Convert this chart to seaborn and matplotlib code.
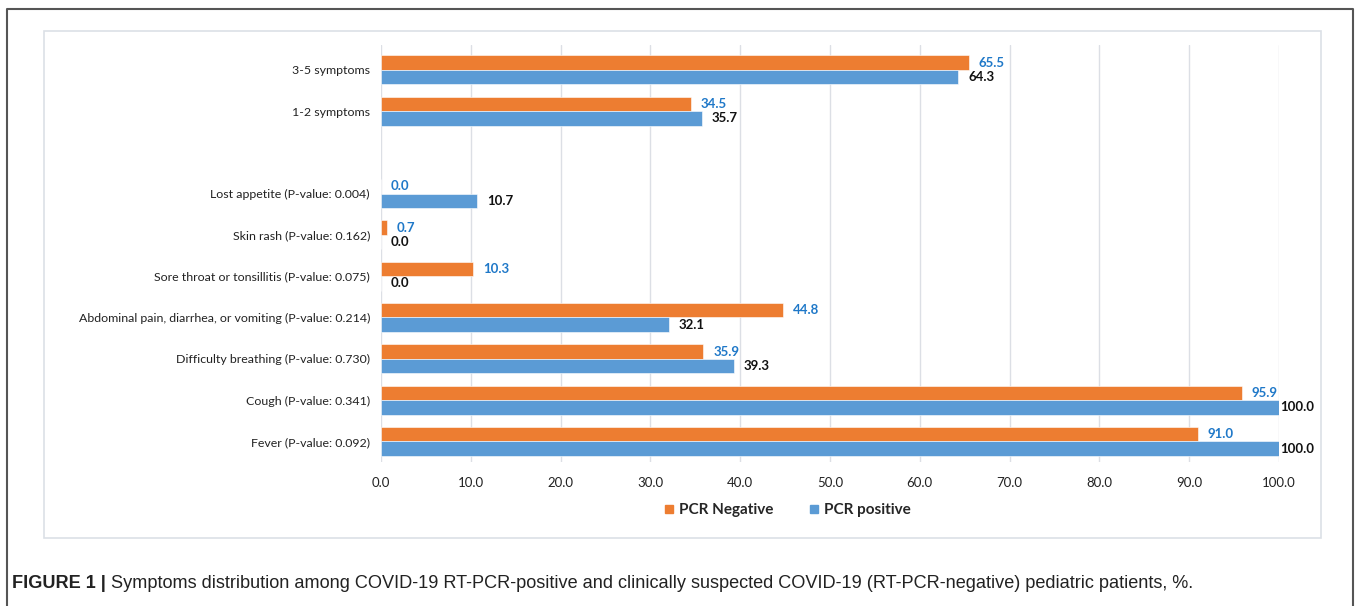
import numpy as np
import pandas as pd
import matplotlib
matplotlib.use("Agg")
import matplotlib.pyplot as plt
from matplotlib.patches import Rectangle
from matplotlib.lines import Line2D
import seaborn as sns

# Symptom categories, top to bottom ("" is a spacer row between groups)
categories = [
    "3-5 symptoms",
    "1-2 symptoms",
    "",
    "Lost appetite (P-value: 0.004)",
    "Skin rash (P-value: 0.162)",
    "Sore throat or tonsillitis (P-value: 0.075)",
    "Abdominal pain, diarrhea, or vomiting (P-value: 0.214)",
    "Difficulty breathing (P-value: 0.730)",
    "Cough (P-value: 0.341)",
    "Fever (P-value: 0.092)",
]
pcr_negative = [65.5, 34.5, np.nan, 0.0, 0.7, 10.3, 44.8, 35.9, 95.9, 91.0]
pcr_positive = [64.3, 35.7, np.nan, 10.7, 0.0, 0.0, 32.1, 39.3, 100.0, 100.0]
groups = ["PCR Negative", "PCR positive"]
x_ticks = [0, 10, 20, 30, 40, 50, 60, 70, 80, 90, 100]

colors = {"PCR Negative": "#ED7D31", "PCR positive": "#5B9BD5"}
label_colors = {"PCR Negative": "#1F78C8", "PCR positive": "#111111"}

df = pd.DataFrame({
    "category": categories * 2,
    "group": [groups[0]] * len(categories) + [groups[1]] * len(categories),
    "value": pcr_negative + pcr_positive,
})

sns.set_theme(style="white")
plt.rcParams["font.family"] = ["Lato", "DejaVu Sans"]

W, H = 1358, 606
fig = plt.figure(figsize=(W / 100, H / 100), dpi=100)
ax = fig.add_axes([381 / W, 1 - 462 / H, (1279 - 381) / W, (462 - 45) / H])

sns.barplot(
    data=df, y="category", x="value", hue="group",
    order=categories, hue_order=groups, palette=colors,
    orient="h", width=0.7, errorbar=None, ax=ax,
    edgecolor="white", linewidth=0.4, saturation=1,
)

# value labels at the end of each bar; full-length bars get their label tight
for container, grp in zip(ax.containers, groups):
    vals = container.datavalues
    labels = [f"{v:.1f}" if np.isfinite(v) else "" for v in vals]
    texts = ax.bar_label(container, labels=labels, padding=7, fontsize=9.5,
                         fontweight="bold", color=label_colors[grp])
    for t, v in zip(texts, vals):
        t.set_clip_on(False)
        if np.isfinite(v) and v >= 100:
            t.xyann = (1, t.xyann[1])

ax.set_xlim(0, 100)
ax.set_ylim(len(categories) - 0.5, -0.6)
ax.set_xticks(x_ticks)
ax.set_xticklabels([f"{t:.1f}" for t in x_ticks], fontsize=9.5, color="#222222")
ax.tick_params(axis="y", labelsize=8.9, colors="#222222", length=0, pad=8)
ax.tick_params(axis="x", length=0, pad=11)
ax.set_xlabel("")
ax.set_ylabel("")
ax.xaxis.grid(True, color="#DCDFE5", linewidth=1)
ax.set_axisbelow(True)
for s in ax.spines.values():
    s.set_visible(False)

ax.get_legend().remove()
handles = [Line2D([], [], marker="s", linestyle="", markersize=6,
                  markerfacecolor=colors[g], markeredgecolor=colors[g]) for g in groups]
fig.legend(handles, groups, loc="center", bbox_to_anchor=(787 / W, 1 - 510 / H),
           ncol=2, frameon=False, handlelength=0.7, handletextpad=0.3,
           columnspacing=2.3, prop={"weight": "bold", "size": 11})

# chart frame and outer figure border
fig.add_artist(Rectangle((44 / W, 1 - 538 / H), (1321 - 44) / W, (538 - 31) / H,
                         transform=fig.transFigure, fill=False,
                         edgecolor="#DCE0E6", linewidth=1.2))
fig.add_artist(Line2D([7 / W, 7 / W, 1353 / W, 1353 / W],
                      [0, 1 - 9 / H, 1 - 9 / H, 0],
                      transform=fig.transFigure, color="#555555", linewidth=1.5))

# caption
cap_font = ["Liberation Sans", "DejaVu Sans"]
t1 = fig.text(12 / W, 1 - 583 / H, "FIGURE 1 | ", fontsize=13.1, fontweight="bold",
              family=cap_font, va="center", ha="left", color="#222222")
fig.canvas.draw()
bb = t1.get_window_extent()
fig.text(bb.x1 / W, 1 - 583 / H,
         "Symptoms distribution among COVID-19 RT-PCR-positive and clinically suspected "
         "COVID-19 (RT-PCR-negative) pediatric patients, %.",
         fontsize=13.1, family=cap_font, va="center", ha="left", color="#222222")

fig.savefig("out.png", dpi=100)
